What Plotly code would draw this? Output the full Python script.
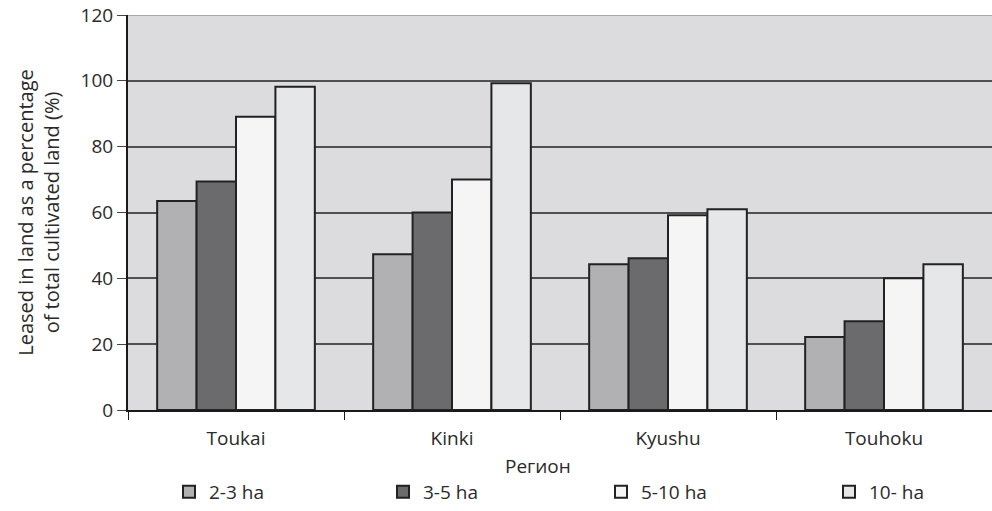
import plotly.graph_objects as go

regions = ["Toukai", "Kinki", "Kyushu", "Touhoku"]
series_names = ["2-3 ha", "3-5 ha", "5-10 ha", "10- ha"]
values_2_3 = [63.5, 47.3, 44.3, 22.2]
values_3_5 = [69.4, 60.0, 46.1, 27.0]
values_5_10 = [89.1, 70.0, 59.2, 40.0]
values_10 = [98.2, 99.3, 61.0, 44.3]
y_ticks = [0, 20, 40, 60, 80, 100, 120]

series_values = [values_2_3, values_3_5, values_5_10, values_10]
fill_colors = ["#b1b1b4", "#6b6b6d", "#f5f5f5", "#e6e7e9"]

W, H = 992, 511
M_L, M_R, M_T, M_B = 128, 0, 15, 100
PLOT_W = W - M_L - M_R
PLOT_H = H - M_T - M_B

font_family = "Open Sans, Liberation Sans, sans-serif"
text_color = "#2a2a2a"
FS = 19

# one legend per series, laid out in a single spaced row under the chart
legend_ids = ["legend", "legend2", "legend3", "legend4"]
legend_left_px = [169, 383, 601, 829]
legend_y = -(493 - (H - M_B)) / PLOT_H

fig = go.Figure()
for name, vals, col, lid in zip(series_names, series_values, fill_colors, legend_ids):
    fig.add_trace(go.Bar(
        x=regions, y=vals, name=name, legend=lid,
        marker=dict(color=col, line=dict(color="#222222", width=2)),
    ))

legend_layout = {}
for lid, px in zip(legend_ids, legend_left_px):
    legend_layout[lid] = dict(
        orientation="h",
        x=(px - M_L) / PLOT_W, xanchor="left",
        y=legend_y, yanchor="middle",
        font=dict(size=FS, color=text_color),
        bgcolor="rgba(0,0,0,0)",
    )

fig.update_layout(
    width=W, height=H,
    margin=dict(l=M_L, r=M_R, t=M_T, b=M_B),
    paper_bgcolor="white",
    plot_bgcolor="#dcdcde",
    barmode="group",
    bargap=0.27,
    bargroupgap=0,
    font=dict(family=font_family, size=FS, color=text_color),
    showlegend=True,
    xaxis=dict(
        showline=True, linecolor="#1a1a1a", linewidth=2,
        ticks="outside", tickson="boundaries", ticklen=8,
        tickcolor="#1a1a1a", tickwidth=1,
        ticklabelstandoff=10,
        showgrid=False,
        tickfont=dict(size=FS, color=text_color),
    ),
    yaxis=dict(
        range=[0, 120],
        tickvals=y_ticks,
        showline=True, linecolor="#1a1a1a", linewidth=2,
        ticks="outside", ticklen=9, tickcolor="#444444", tickwidth=1,
        showgrid=True, gridcolor="#505050", gridwidth=1.5,
        zeroline=False,
        tickfont=dict(size=FS, color=text_color),
        title=dict(
            text="Leased in land as a percentage<br>of total cultivated land (%)",
            font=dict(size=20, color=text_color),
            standoff=16,
        ),
    ),
    **legend_layout,
)

# light border along the top of the plotting area
fig.add_shape(type="line", xref="paper", yref="y", x0=0, x1=1, y0=120, y1=120,
              line=dict(color="#a8a8aa", width=2))

# x-axis title
fig.add_annotation(
    text="Регион", xref="paper", yref="paper",
    x=(538 - M_L) / PLOT_W, y=-(467 - (H - M_B)) / PLOT_H,
    showarrow=False, xanchor="center", yanchor="middle",
    font=dict(size=FS, color=text_color),
)

fig.write_html("out.html")
